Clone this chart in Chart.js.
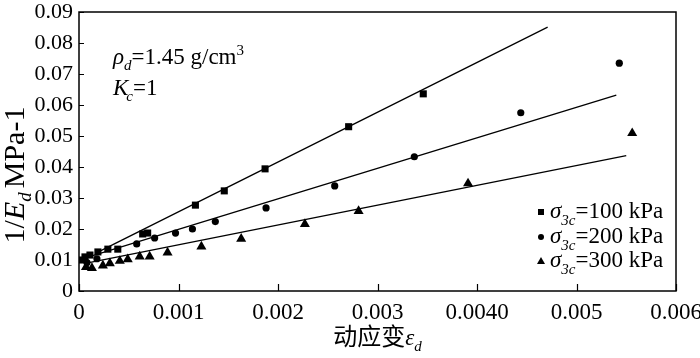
<!DOCTYPE html>
<html><head><meta charset="utf-8">
<script src="https://cdn.jsdelivr.net/npm/chart.js@4.4.0/dist/chart.umd.min.js"></script>
<style>html,body{margin:0;padding:0;background:#fff}#wrap{width:700px;height:358px}</style>
</head><body><div id="wrap"><canvas id="c" width="700" height="358"></canvas></div>
<script>
// ---- data ----
const xTickVals = [0, 0.001, 0.002, 0.003, 0.004, 0.005, 0.006];
const xTickLabels = ["0", "0.001", "0.002", "0.003", "0.0040", "0.005", "0.006"];
const yTickVals = [0, 0.01, 0.02, 0.03, 0.04, 0.05, 0.06, 0.07, 0.08, 0.09];
const yTickLabels = ["0", "0.01", "0.02", "0.03", "0.04", "0.05", "0.06", "0.07", "0.08", "0.09"];

const s100X = [0.00003,0.00006,0.00011,0.00019,0.00029,0.00039,0.00064,0.00069,0.00117,0.00146,0.00187,0.00271,0.00346];
const s100Y = [0.0100,0.0110,0.0116,0.0126,0.0135,0.0135,0.0184,0.0187,0.0277,0.0323,0.0394,0.0530,0.0636];
const s200X = [0.00008,0.00018,0.00058,0.00076,0.00097,0.00114,0.00137,0.00188,0.00257,0.00337,0.00444,0.00543];
const s200Y = [0.0092,0.0104,0.0152,0.0171,0.0187,0.0200,0.0224,0.0268,0.0339,0.0433,0.0575,0.0735];
const s300X = [0.00007,0.00013,0.00024,0.00031,0.00041,0.00049,0.00061,0.00071,0.00089,0.00123,0.00163,0.00227,0.00281,0.00391,0.00556];
const s300Y = [0.0077,0.0074,0.0082,0.0089,0.0097,0.0102,0.0111,0.0111,0.0124,0.0143,0.0168,0.0216,0.0258,0.0347,0.0509];

const fit100X = [0.0002, 0.00471], fit100Y = [0.0127, 0.0851];
const fit200X = [0.00013, 0.0054], fit200Y = [0.0113, 0.0632];
const fit300X = [0.00005, 0.0055], fit300Y = [0.0088, 0.0437];

const seriesNames = ["=100 kPa", "=200 kPa", "=300 kPa"];

const pts = (xs, ys) => xs.map((x, i) => ({x: x, y: ys[i]}));
const SERIF = "'Liberation Serif', 'Times New Roman', serif";

function drawRich(ctx, parts, x, y) {
  let cx = x;
  for (const p of parts) {
    ctx.font = p.f;
    ctx.fillText(p.t, cx + (p.dx || 0), y + (p.dy || 0));
    cx += ctx.measureText(p.t).width + (p.dx || 0) + (p.adv || 0);
  }
  return cx;
}
function richWidth(ctx, parts) {
  let w = 0;
  for (const p of parts) { ctx.font = p.f; w += ctx.measureText(p.t).width + (p.dx || 0) + (p.adv || 0); }
  return w;
}

const decor = {
  id: 'decor',
  afterDatasetsDraw(chart) {
    const ctx = chart.ctx, a = chart.chartArea;
    const xs = chart.scales.x, ys = chart.scales.y;
    ctx.save();
    ctx.strokeStyle = '#000';
    ctx.lineWidth = 1.5;
    ctx.strokeRect(a.left, a.top, a.right - a.left, a.bottom - a.top);
    ctx.lineWidth = 1.2;
    ctx.beginPath();
    xTickVals.forEach(v => { const px = Math.round(xs.getPixelForValue(v)) + 0.5; ctx.moveTo(px, a.bottom); ctx.lineTo(px, a.bottom - 7); });
    yTickVals.forEach(v => { const py = Math.round(ys.getPixelForValue(v)) + 0.5; ctx.moveTo(a.left, py); ctx.lineTo(a.left + 5, py); });
    ctx.stroke();

    ctx.fillStyle = '#000';
    ctx.textBaseline = 'alphabetic';
    ctx.textAlign = 'left';
    // annotation
    drawRich(ctx, [
      {t: 'ρ', f: 'italic 23px ' + SERIF},
      {t: 'd', f: 'italic 15px ' + SERIF, dy: 6, dx: 0},
      {t: '=1.45 g/cm', f: '23px ' + SERIF},
      {t: '3', f: '15px ' + SERIF, dy: -9}
    ], 113, 64);
    drawRich(ctx, [
      {t: 'K', f: 'italic 23px ' + SERIF},
      {t: 'c', f: 'italic 15px ' + SERIF, dy: 6, dx: -2},
      {t: '=1', f: '23px ' + SERIF}
    ], 113, 95);

    // legend
    const rows = [218, 243, 267];
    const styles = ['rect', 'circle', 'triangle'];
    rows.forEach((by, i) => {
      const mx = 541, my = by - 6;
      ctx.beginPath();
      if (styles[i] === 'rect') ctx.rect(mx - 3, my - 3, 6, 6);
      else if (styles[i] === 'circle') ctx.arc(mx, my, 3, 0, Math.PI * 2);
      else { ctx.moveTo(mx, my - 4); ctx.lineTo(mx + 4, my + 3); ctx.lineTo(mx - 4, my + 3); ctx.closePath(); }
      ctx.fill();
      drawRich(ctx, [
        {t: 'σ', f: 'italic 23px ' + SERIF},
        {t: '3c', f: 'italic 15px ' + SERIF, dy: 7},
        {t: seriesNames[i], f: '23px ' + SERIF}
      ], 550, by);
    });

    // x title
    const xt = [
      {t: '动应变', f: "24px 'Noto Sans CJK SC', sans-serif"},
      {t: 'ε', f: 'italic 23px ' + SERIF},
      {t: 'd', f: 'italic 15px ' + SERIF, dy: 6}
    ];
    const xw = richWidth(ctx, xt);
    drawRich(ctx, xt, (a.left + a.right) / 2 - xw / 2, 345);

    // y title
    const yt = [
      {t: '1/', f: '30px ' + SERIF},
      {t: 'E', f: 'italic 30px ' + SERIF},
      {t: 'd', f: 'italic 19px ' + SERIF, dy: 7, adv: 4},
      {t: 'MPa-1', f: '30px ' + SERIF}
    ];
    const yw = richWidth(ctx, yt);
    ctx.translate(24, 175);
    ctx.rotate(-Math.PI / 2);
    drawRich(ctx, yt, -yw / 2, 0);
    ctx.restore();
  }
};

function build() {
  const black = '#000';
  new Chart(document.getElementById('c'), {
    type: 'scatter',
    data: {
      datasets: [
        {data: pts(fit100X, fit100Y), showLine: true, pointRadius: 0, borderColor: black, borderWidth: 1.3},
        {data: pts(fit200X, fit200Y), showLine: true, pointRadius: 0, borderColor: black, borderWidth: 1.3},
        {data: pts(fit300X, fit300Y), showLine: true, pointRadius: 0, borderColor: black, borderWidth: 1.3},
        {data: pts(s100X, s100Y), pointStyle: 'rect', pointRadius: 5, backgroundColor: black, borderColor: black, borderWidth: 0},
        {data: pts(s200X, s200Y), pointStyle: 'circle', pointRadius: 3.6, backgroundColor: black, borderColor: black, borderWidth: 0},
        {data: pts(s300X, s300Y), pointStyle: 'triangle', pointRadius: 5.8, backgroundColor: black, borderColor: black, borderWidth: 0}
      ]
    },
    options: {
      responsive: false,
      animation: false,
      events: [],
      layout: {padding: {top: 12, right: 24, left: 0, bottom: 0}},
      plugins: {legend: {display: false}, tooltip: {enabled: false}},
      scales: {
        x: {
          type: 'linear', min: 0, max: 0.006,
          afterBuildTicks: s => { s.ticks = xTickVals.map(v => ({value: v})); },
          afterFit: s => { s.height = 67; s.paddingLeft = 0; s.paddingRight = 0; },
          grid: {display: false, drawTicks: false},
          border: {display: false},
          ticks: {
            autoSkip: false, maxRotation: 0, padding: 8, color: '#000',
            font: {family: SERIF, size: 23},
            callback: (v, i) => xTickLabels[i]
          }
        },
        y: {
          type: 'linear', min: 0, max: 0.09,
          afterBuildTicks: s => { s.ticks = yTickVals.map(v => ({value: v})); },
          afterFit: s => { s.width = 79; s.paddingTop = 0; s.paddingBottom = 0; },
          grid: {display: false, drawTicks: false},
          border: {display: false},
          ticks: {
            autoSkip: false, padding: 6, color: '#000',
            font: {family: SERIF, size: 22},
            callback: (v, i) => yTickLabels[i]
          }
        }
      }
    },
    plugins: [decor]
  });
}

const fontLoads = [
  "22px 'Liberation Serif'", "italic 22px 'Liberation Serif'", "24px 'Noto Sans CJK SC'"
].map(f => document.fonts.load(f, '0.1ρσεMPa动应变').catch(() => null));
Promise.all(fontLoads).then(build, build);
</script></body></html>
